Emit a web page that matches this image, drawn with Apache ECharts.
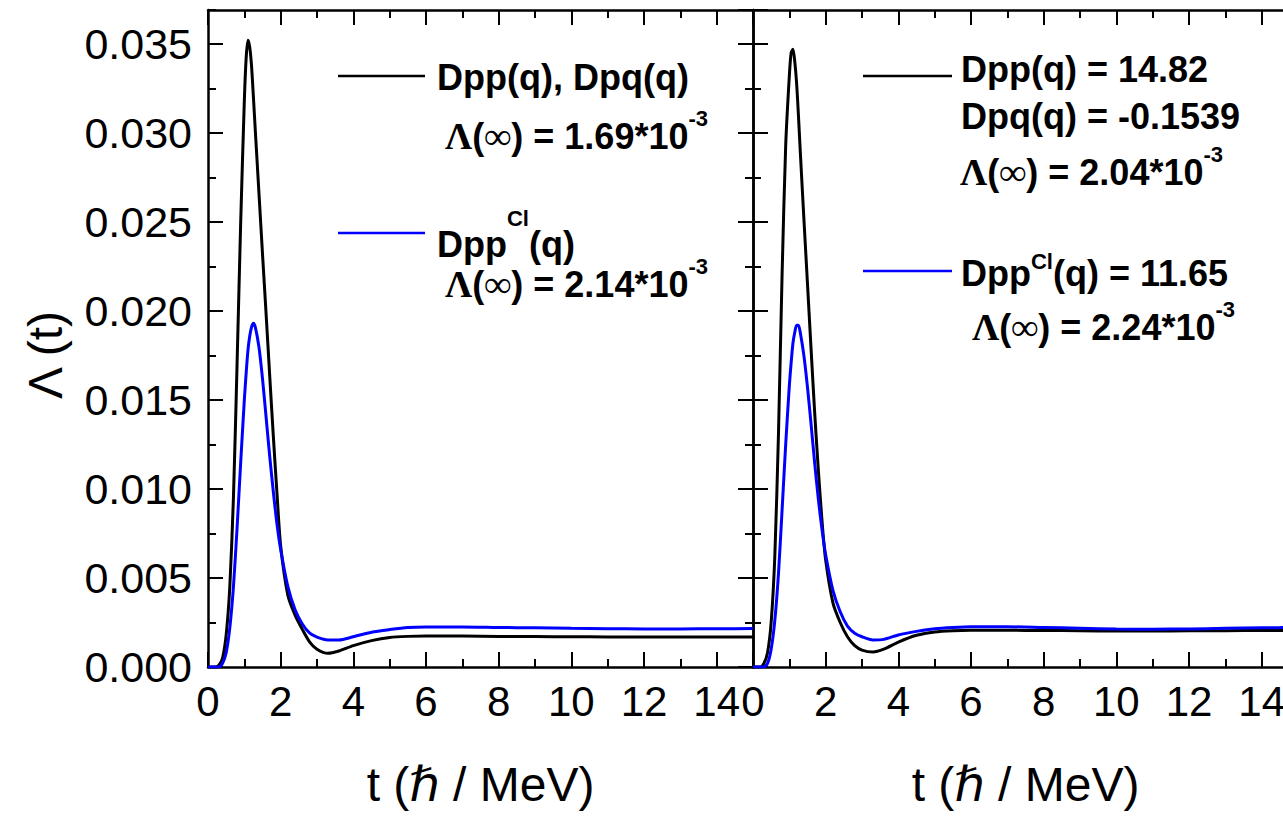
<!DOCTYPE html>
<html><head><meta charset="utf-8">
<script src="https://cdn.jsdelivr.net/npm/echarts@6/dist/echarts.min.js"></script>
<style>html,body{margin:0;padding:0;background:#fff}#c{width:1283px;height:816px}</style>
</head><body><div id="c"></div>
<script>
// ---- data ----
const tValues = [0,0.2,0.3,0.4,0.5,0.6,0.7,0.8,0.9,1.0,1.05,1.1,1.15,1.2,1.25,1.3,1.4,1.5,1.6,1.7,1.8,1.9,2.0,2.2,2.4,2.6,2.8,3.0,3.3,3.6,4.0,4.5,5.0,5.5,6,7,8,9,10,11,12,13,14,15];
const leftBlack = [0,0,0.0001,0.0005,0.0018,0.0045,0.0095,0.0170,0.0250,0.0318,0.0342,0.0352,0.0348,0.0337,0.0320,0.0302,0.0267,0.0232,0.0198,0.0163,0.0129,0.0097,0.0068,0.0040,0.0029,0.0021,0.0014,0.0010,0.00077,0.0009,0.0012,0.00148,0.00166,0.00172,0.00174,0.00174,0.00172,0.00171,0.0017,0.00169,0.00169,0.00169,0.00169,0.00169];
const leftBlue = [0,0,0,0.0002,0.0008,0.0022,0.0045,0.0078,0.0115,0.0150,0.0165,0.0178,0.0186,0.0191,0.0193,0.0191,0.0180,0.0162,0.0140,0.0118,0.0098,0.0080,0.0066,0.0045,0.0032,0.0024,0.0019,0.00168,0.00152,0.00152,0.0017,0.00195,0.0021,0.00222,0.00225,0.00225,0.00222,0.0022,0.00217,0.00215,0.00214,0.00214,0.00215,0.00216];
const rightBlack = [0,0,0.0002,0.0008,0.0025,0.0062,0.0130,0.0220,0.0293,0.0332,0.0345,0.0347,0.0340,0.0328,0.0310,0.0290,0.0252,0.0215,0.0178,0.0142,0.0110,0.0082,0.0060,0.0036,0.0025,0.0017,0.0012,0.00095,0.00084,0.0010,0.0014,0.00178,0.00197,0.00204,0.00206,0.00206,0.00205,0.00204,0.00202,0.00202,0.00203,0.00204,0.00205,0.00206];
const rightBlue = [0,0,0,0.0002,0.0010,0.0026,0.0052,0.0088,0.0125,0.0158,0.0171,0.0182,0.0188,0.0192,0.0192,0.0188,0.0175,0.0157,0.0136,0.0114,0.0094,0.0077,0.0063,0.0043,0.0031,0.0023,0.0019,0.0017,0.00152,0.00155,0.0018,0.0020,0.00215,0.00222,0.00226,0.00226,0.00222,0.00218,0.00213,0.00212,0.00214,0.00217,0.0022,0.00222];
const xRange = [0, 15];
const yRange = [0, 0.0369];
const xMajorStep = 2, xMinorStep = 1;
const yMajorStep = 0.005, yMinorStep = 0.0025;
const xTitle = 't (ℏ / MeV)';
const yTitle = 'Λ (t)';
const leftLegend = ['Dpp(q), Dpq(q)', '1.69'];
const rightLegend = ['Dpp(q) = 14.82', 'Dpq(q) = -0.1539', '2.04', '11.65', '2.24'];
const leftBlueLegend = '2.14';

const SANS = "'Liberation Sans', Arial, 'DejaVu Sans', sans-serif";
const SERIF = "'Liberation Serif', 'Times New Roman', serif";
const BLUE = '#0000ff';

const chart = echarts.init(document.getElementById('c'), null, {renderer: 'svg'});

function xAxisDef(gi, pos, major, labels, name) {
  return {
    type: 'value', gridIndex: gi, position: pos, min: xRange[0], max: xRange[1],
    interval: major ? xMajorStep : xMinorStep,
    axisLine: {show: major, onZero: false, lineStyle: {color: '#000', width: 2.5}},
    axisTick: {show: true, inside: true, length: major ? 15 : 8, lineStyle: {color: '#000', width: 2}},
    axisLabel: {show: labels, showMaxLabel: false, margin: 13, fontSize: 42, color: '#000', fontFamily: SANS},
    splitLine: {show: false},
    name: name || '', nameLocation: 'middle', nameGap: 93,
    nameTextStyle: {fontSize: 48, color: '#000', fontFamily: SANS}
  };
}
function yAxisDef(gi, pos, major, labels) {
  return {
    type: 'value', gridIndex: gi, position: pos, min: yRange[0], max: yRange[1],
    interval: major ? yMajorStep : yMinorStep,
    axisLine: {show: major, onZero: false, lineStyle: {color: '#000', width: 2.5}},
    axisTick: {show: true, inside: true, length: major ? 15 : 8, lineStyle: {color: '#000', width: 2}},
    axisLabel: {show: labels, showMaxLabel: false, margin: 16, fontSize: 43, color: '#000', fontFamily: SANS,
      formatter: v => v.toFixed(3)},
    splitLine: {show: false}
  };
}

const xAxes = [], yAxes = [];
[0, 1].forEach(gi => {
  xAxes.push(xAxisDef(gi, 'bottom', true, true, xTitle));
  xAxes.push(xAxisDef(gi, 'bottom', false, false));
  xAxes.push(xAxisDef(gi, 'top', true, false));
  xAxes.push(xAxisDef(gi, 'top', false, false));
  yAxes.push(yAxisDef(gi, 'left', true, gi === 0));
  yAxes.push(yAxisDef(gi, 'left', false, false));
  yAxes.push(yAxisDef(gi, 'right', true, false));
  yAxes.push(yAxisDef(gi, 'right', false, false));
});

function pairs(ys) { return tValues.map((t, i) => [t, ys[i]]); }
function lineSeries(ys, color, gi) {
  return {
    type: 'line', xAxisIndex: gi * 4, yAxisIndex: gi * 4, data: pairs(ys),
    showSymbol: false, smooth: 0.25, lineStyle: {color: color, width: 3}, clip: true, z: 3
  };
}

// text helper: sequence of segments laid out left to right
const measureCtx = document.createElement('canvas').getContext('2d');
function segs(x, y, parts) {
  const out = [];
  let cx = x;
  parts.forEach(p => {
    const size = p.size || 36;
    const fam = p.serif ? SERIF : SANS;
    const font = 'bold ' + size + 'px ' + fam;
    measureCtx.font = font;
    const w = measureCtx.measureText(p.t).width;
    out.push({type: 'text', x: cx, y: y + (p.dy || 0), z: 10,
      style: {text: p.t, font: font, fill: '#000', textAlign: 'left', textVerticalAlign: 'middle'}});
    cx += w + (p.gap || 0);
  });
  return out;
}
function lambdaLine(x, y, val) {
  return segs(x, y, [
    {t: 'Λ', serif: true, size: 38}, {t: '('}, {t: '∞', serif: true, size: 38}, {t: ') = ' + val + '*10'},
    {t: '-3', size: 22, dy: -18}
  ]);
}

const graphics = [
  {type: 'line', shape: {x1: 338, y1: 76, x2: 425, y2: 76}, style: {stroke: '#000', lineWidth: 2.5}},
  {type: 'line', shape: {x1: 338, y1: 233, x2: 425, y2: 233}, style: {stroke: BLUE, lineWidth: 2.5}},
  {type: 'line', shape: {x1: 863, y1: 76, x2: 952, y2: 76}, style: {stroke: '#000', lineWidth: 2.5}},
  {type: 'line', shape: {x1: 863, y1: 271, x2: 952, y2: 271}, style: {stroke: BLUE, lineWidth: 2.5}},
  ...segs(437, 77, [{t: leftLegend[0]}]),
  ...lambdaLine(445, 136, leftLegend[1]),
  ...segs(437, 244, [{t: 'Dpp'}, {t: 'Cl', size: 22, dy: -26}, {t: '(q)'}]),
  ...lambdaLine(445, 284, leftBlueLegend),
  ...segs(961, 69, [{t: rightLegend[0]}]),
  ...segs(961, 116, [{t: rightLegend[1]}]),
  ...lambdaLine(960, 172, rightLegend[2]),
  ...segs(961, 273, [{t: 'Dpp'}, {t: 'Cl', size: 22, dy: -12}, {t: '(q) = ' + rightLegend[3]}]),
  ...lambdaLine(972, 327, rightLegend[4]),
  {type: 'text', x: 45, y: 355, rotation: Math.PI / 2, z: 10,
    style: {text: yTitle, font: '48px ' + SANS, fill: '#000', textAlign: 'center', textVerticalAlign: 'middle'}}
];

chart.setOption({
  animation: false,
  backgroundColor: '#fff',
  grid: [
    {left: 208, top: 10, width: 545, height: 657, outerBoundsMode: 'none', containLabel: false},
    {left: 753, top: 10, width: 545, height: 657, outerBoundsMode: 'none', containLabel: false}
  ],
  xAxis: xAxes,
  yAxis: yAxes,
  series: [
    lineSeries(leftBlack, '#000', 0),
    lineSeries(leftBlue, BLUE, 0),
    lineSeries(rightBlack, '#000', 1),
    lineSeries(rightBlue, BLUE, 1)
  ],
  graphic: graphics
});
</script>
</body></html>
